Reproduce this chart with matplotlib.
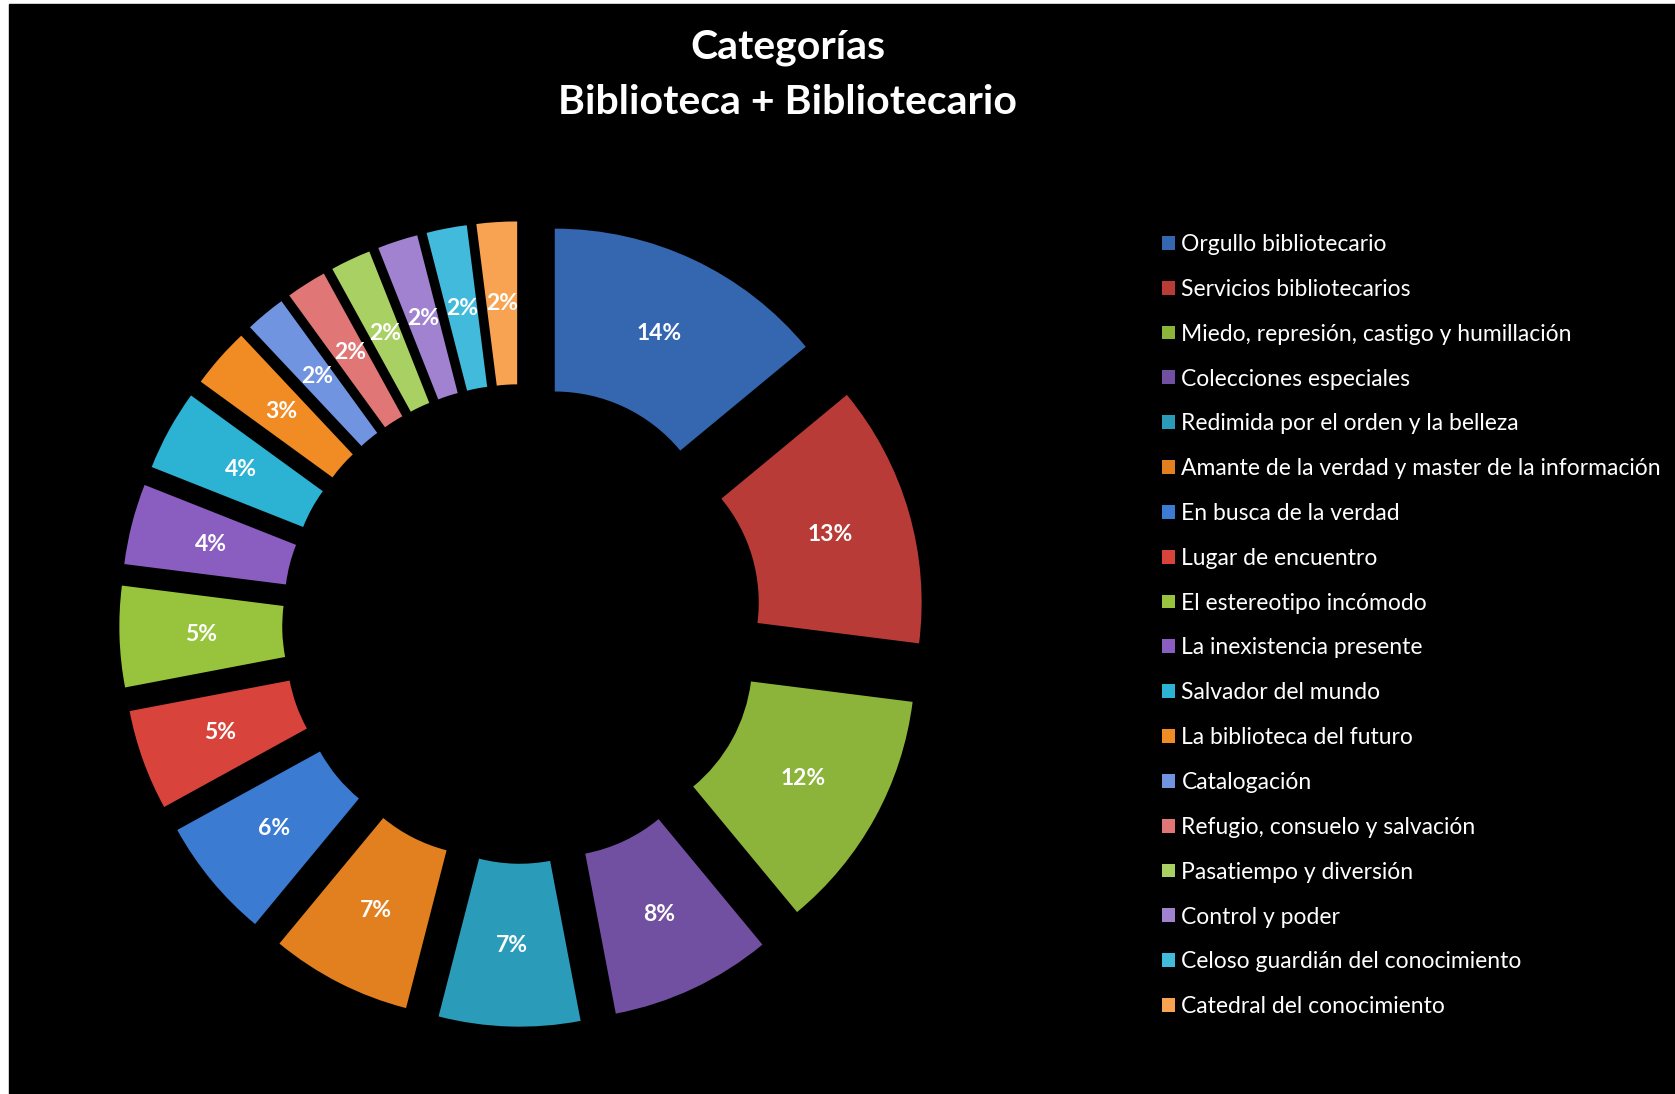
import matplotlib.pyplot as plt
from matplotlib.patches import Rectangle

categorias = [
    'Orgullo bibliotecario',
    'Servicios bibliotecarios',
    'Miedo, represión, castigo y humillación',
    'Colecciones especiales',
    'Redimida por el orden y la belleza',
    'Amante de la verdad y master de la información',
    'En busca de la verdad',
    'Lugar de encuentro',
    'El estereotipo incómodo',
    'La inexistencia presente',
    'Salvador del mundo',
    'La biblioteca del futuro',
    'Catalogación',
    'Refugio, consuelo y salvación',
    'Pasatiempo y diversión',
    'Control y poder',
    'Celoso guardián del conocimiento',
    'Catedral del conocimiento',
]
porcentajes = [14, 13, 12, 8, 7, 7, 6, 5, 5, 4, 4, 3, 2, 2, 2, 2, 2, 2]
colores = [
    '#3566b0', '#b93b37', '#8cb43b', '#7150a2', '#2a9cba', '#e2801f',
    '#3b7bd2', '#d8443b', '#97c43c', '#8a5dc0', '#2cb2d2', '#f18b23',
    '#7094e0', '#e07676', '#a8d062', '#a082d0', '#42badc', '#f8a352',
]
titulo = ['Categorías', 'Biblioteca + Bibliotecario']

W, H = 1675, 1094
fig = plt.figure(figsize=(W / 100, H / 100), dpi=100)
fig.patch.set_facecolor('white')
fig.add_artist(Rectangle((9 / W, 0), 1, 1 - 4 / H, transform=fig.transFigure,
                         color='black', zorder=-10))

# donut axes: 1 data unit = ~326 px, center at (522, 624) px from top-left
S = 977.4
cx, cy = 522, H - 624
ax = fig.add_axes([(cx - S / 2) / W, (cy - S / 2) / H, S / W, S / H])
ax.set_facecolor('none')

wedges, textos, pcts = ax.pie(
    porcentajes, colors=colores, startangle=90, counterclock=False,
    explode=[0.236] * len(porcentajes), radius=1.0,
    autopct='%1.0f%%', pctdistance=0.75,
    wedgeprops=dict(width=0.5, edgecolor='none'),
    textprops=dict(color='white', fontsize=16.5, fontweight='bold', family='Lato'),
)
ax.set_xlim(-1.5, 1.5)
ax.set_ylim(-1.5, 1.5)
ax.set_aspect('equal')
ax.axis('off')

for i, linea in enumerate(titulo):
    fig.text(788 / W, 1 - (48 + 54.5 * i) / H, linea, ha='center', va='center',
             color='white', fontsize=29.5, fontweight='bold', family='Lato')

leg = fig.legend(wedges, categorias, loc='upper left',
                 bbox_to_anchor=(1162 / W, 1 - 234 / H), frameon=False,
                 prop=dict(family='Lato', size=16.5), labelcolor='white',
                 handlelength=0.55, handleheight=0.55, handletextpad=0.3,
                 labelspacing=1.04, borderpad=0, borderaxespad=0)

plt.savefig('out.png', dpi=100, facecolor=fig.get_facecolor())
